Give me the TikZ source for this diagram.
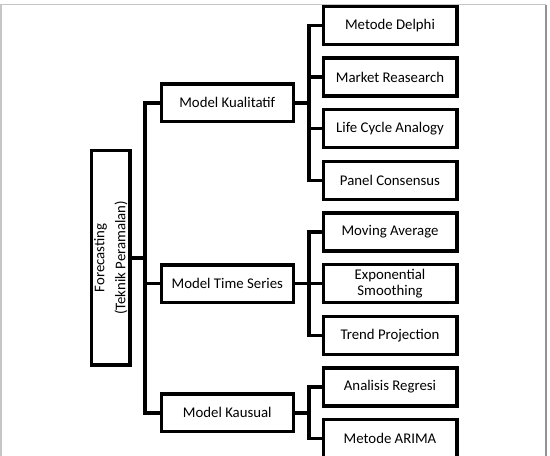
\documentclass[tikz,border=0pt]{standalone}
\usepackage{fontspec}
\setmainfont{Carlito}
\begin{document}
\begin{tikzpicture}[x=1pt,y=-1pt,
  every node/.style={font=\fontsize{14.8}{16}\selectfont, align=center, inner sep=0pt},
  leaf/.style={draw, line width=3.4pt, minimum width=133.6pt, minimum height=38.1pt, fill=white},
  mid/.style={draw, line width=3.4pt, minimum width=132.1pt, minimum height=37.6pt, fill=white},
  root/.style={draw, line width=3.4pt, minimum width=214.3pt, minimum height=38.3pt, rotate=90, fill=white},
  conn/.style={line width=3.4pt, line join=miter}]
\clip (0,0) rectangle (550,456);
% frame
\draw[line width=1.5pt, gray!45] (1,465) -- (1,4.7) -- (545.7,4.7);
\draw[line width=1.8pt, gray!85] (545.7,4.7) -- (545.7,465);
% root
\node[root] (F) at (110.8,257.8) {Forecasting\\[5pt](Teknik Peramalan)};
% middle level
\node[mid] (K) at (227.3,102.8) {Model Kualitatif};
\node[mid] (T) at (227.3,283.7) {Model Time Series};
\node[mid] (C) at (227.3,412.8) {Model Kausual};
% leaves
\node[leaf] (a1) at (390,25.4) {Metode Delphi};
\node[leaf] (a2) at (390,77.1) {Market Reasearch};
\node[leaf] (a3) at (390,128.7) {Life Cycle Analogy};
\node[leaf] (a4) at (390,180.4) {Panel Consensus};
\node[leaf] (b1) at (390,232.0) {Moving Average};
\node[leaf] (b2) at (390,283.7) {Exponential\\Smoothing};
\node[leaf] (b3) at (390,335.3) {Trend Projection};
\node[leaf] (c1) at (390,387.0) {Analisis Regresi};
\node[leaf] (c2) at (390,438.6) {Metode ARIMA};
% junctions
\coordinate (J1) at (145,257.8);
\coordinate (J2) at (309,102.8);
\coordinate (J3) at (309,283.7);
\coordinate (J4) at (309,412.8);
% connectors
\draw[conn] (F.south) -- (J1);
\draw[conn] (J1) |- (K.west);
\draw[conn] (J1) |- (T.west);
\draw[conn] (J1) |- (C.west);
\draw[conn] (K.east) -- (J2);
\draw[conn] (J2) |- (a1.west);
\draw[conn] (J2) |- (a2.west);
\draw[conn] (J2) |- (a3.west);
\draw[conn] (J2) |- (a4.west);
\draw[conn] (T.east) -- (J3);
\draw[conn] (J3) |- (b1.west);
\draw[conn] (J3) |- (b2.west);
\draw[conn] (J3) |- (b3.west);
\draw[conn] (C.east) -- (J4);
\draw[conn] (J4) |- (c1.west);
\draw[conn] (J4) |- (c2.west);
\end{tikzpicture}
\end{document}
